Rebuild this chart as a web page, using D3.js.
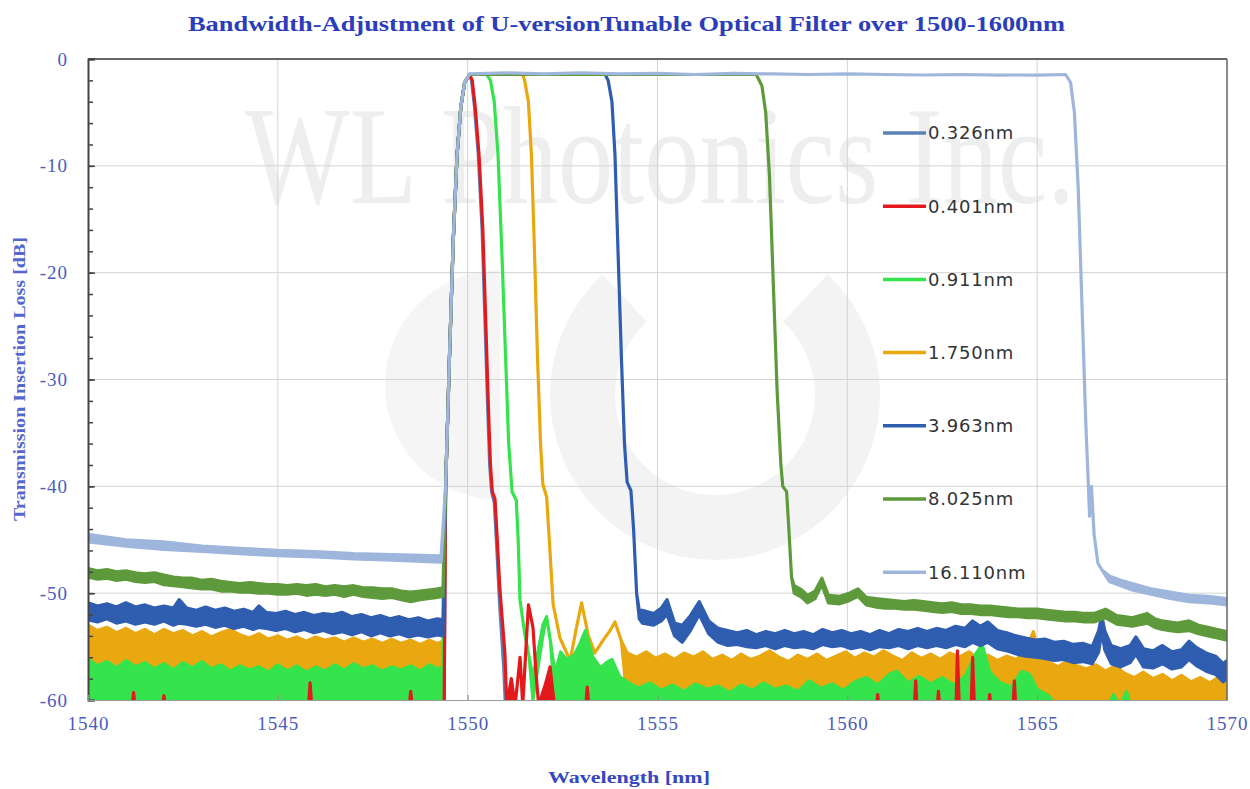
<!DOCTYPE html>
<html>
<head>
<meta charset="utf-8">
<script src="https://cdn.jsdelivr.net/npm/d3@7"></script>
<style>
  body { margin: 0; background: #fff; }
  svg { display: block; }
  .tick text { font-family: "Liberation Serif", serif; font-size: 19px; fill: #4c5cbf; letter-spacing: 1px; }
</style>
</head>
<body>
<script>
// series names (legend order)
const seriesNames = ['0.326nm', '0.401nm', '0.911nm', '1.750nm', '3.963nm', '8.025nm', '16.110nm'];
const xTicks = [1540, 1545, 1550, 1555, 1560, 1565, 1570];
const yTicks = [0, -10, -20, -30, -40, -50, -60];
const yMinor = d3.range(0, -61, -2);

// each point: [wavelength nm, upper dB, lower dB (optional, same as upper if missing)]
const s0326 = [[1540,-61],[1549.38,-61],[1549.42,-40],[1549.52,-28],[1549.62,-17],[1549.72,-9],[1549.82,-4.5],[1549.92,-2.2],[1550.05,-1.45],
  [1550.1,-2.0],[1550.18,-4.5],[1550.28,-9],[1550.38,-16],[1550.46,-25],[1550.53,-33],[1550.58,-38],[1550.63,-40.5],[1550.7,-41.5],
  [1550.77,-46],[1550.84,-51],[1550.95,-57],[1551.0,-61],[1570,-61]];

const s0401 = [[1540,-61],[1541.15,-61],[1541.2,-59.3,-61],[1541.25,-61],[1541.95,-61],[1542.0,-59.6,-61],[1542.05,-61],
  [1545.8,-61],[1545.85,-58.4,-61],[1545.9,-61],[1548.45,-61],[1548.5,-59.2,-61],[1548.55,-61],[1549.38,-61],
  [1549.42,-40],[1549.52,-28],[1549.62,-17],[1549.72,-9],[1549.82,-4.5],[1549.92,-2.2],[1550.05,-1.45],
  [1550.12,-2.0],[1550.2,-4.5],[1550.3,-9],[1550.4,-16],[1550.48,-25],[1550.55,-33],[1550.6,-38],[1550.65,-40.5],[1550.72,-41.2],
  [1550.78,-45],[1550.85,-49.7],[1550.98,-55.6],[1551.03,-60.5],[1551.15,-58,-61],[1551.25,-60.5],[1551.38,-56],[1551.45,-60.5],
  [1551.6,-51.1],[1551.72,-53.2],[1551.8,-57.5],[1551.87,-60.5],[1552.05,-58.5,-61],[1552.17,-56.9,-61],[1552.3,-61],
  [1553.1,-61],[1553.15,-58.8,-61],[1553.2,-61],[1560.76,-61],[1560.8,-59.5,-61],[1560.84,-61],[1561.76,-61],[1561.8,-58.2,-61],
  [1561.84,-61],[1562.36,-61],[1562.4,-59.2,-61],[1562.44,-61],[1562.86,-61],[1562.9,-55.4,-61],[1562.95,-61],[1563.26,-61],
  [1563.3,-56.0,-61],[1563.35,-61],[1563.71,-61],[1563.75,-59.5,-61],[1563.79,-61],[1564.36,-61],[1564.4,-58.2,-61],[1564.44,-61],[1570,-61]];

const s0911 = [[1540,-56.2,-60],[1540.25,-56.8,-60],[1540.5,-56.4,-60],[1540.75,-57.0,-60],[1541,-56.3,-60],[1541.25,-56.9,-60],
  [1541.5,-56.5,-60],[1541.75,-57.1,-60],[1542,-56.6,-60],[1542.25,-57.2,-60],[1542.5,-56.5,-60],[1542.75,-57.0,-60],[1543,-56.4,-60],
  [1543.25,-57.1,-60],[1543.5,-56.7,-60],[1543.75,-57.3,-60],[1544,-56.8,-60],[1544.25,-57.2,-60],[1544.5,-56.9,-60],[1544.75,-57.4,-60],
  [1545,-56.7,-60],[1545.25,-57.3,-60],[1545.5,-56.8,-60],[1545.75,-57.4,-60],[1546,-56.9,-60],[1546.25,-57.3,-60],[1546.5,-56.7,-60],
  [1546.75,-57.2,-60],[1547,-56.6,-60],[1547.25,-57.1,-60],[1547.5,-56.8,-60],[1547.75,-57.3,-60],[1548,-56.9,-60],[1548.25,-57.2,-60],
  [1548.5,-56.8,-60],[1548.75,-57.3,-60],[1549,-56.7,-60],[1549.2,-57.1,-60],[1549.35,-56.9,-60],
  [1549.42,-40],[1549.52,-28],[1549.62,-17],[1549.72,-9],[1549.82,-4.5],[1549.92,-2.2],[1550.05,-1.45],[1550.5,-1.45],
  [1550.6,-2.0],[1550.7,-4],[1550.8,-9],[1550.9,-18],[1551.0,-28],[1551.08,-36],[1551.17,-40.5],[1551.28,-41.3],[1551.33,-45],
  [1551.38,-50.7],[1551.5,-53.7],[1551.62,-56],[1551.72,-57.8,-60],[1551.85,-55.5,-57],[1551.98,-53,-54],[1552.08,-52.2],
  [1552.18,-54.5],[1552.3,-57.5,-60],[1552.45,-55.5,-60],[1552.6,-56.2,-60],[1552.8,-55.8,-60],[1552.95,-54.8,-60],[1553.1,-53.5,-60],
  [1553.3,-56,-60],[1553.5,-57,-60],[1553.65,-56.5,-60],[1553.8,-56.2,-60],[1554.0,-57.8,-60],
  [1554.2,-58.3,-60],[1554.5,-58.9,-60],[1554.8,-58.4,-60],[1555.1,-59.1,-60],[1555.4,-58.6,-60],[1555.7,-59.2,-60],[1556.0,-58.5,-60],
  [1556.3,-59.0,-60],[1556.6,-58.7,-60],[1556.9,-59.3,-60],[1557.2,-58.6,-60],[1557.5,-59.1,-60],[1557.8,-58.4,-60],[1558.1,-59.0,-60],
  [1558.4,-58.7,-60],[1558.7,-59.2,-60],[1559.0,-58.2,-60],[1559.3,-58.9,-60],[1559.6,-58.5,-60],[1559.9,-59.1,-60],[1560.2,-58.3,-60],
  [1560.5,-57.9,-60],[1560.8,-58.6,-60],[1561.1,-57.6,-60],[1561.3,-57.3,-60],[1561.6,-58.4,-60],[1561.9,-57.8,-60],[1562.2,-58.5,-60],
  [1562.5,-57.9,-60],[1562.8,-58.6,-60],[1563.1,-57.8,-60],[1563.4,-55.6,-60],[1563.55,-54.8,-60],[1563.75,-57.4,-60],[1564.0,-58.3,-60],
  [1564.3,-58.8,-60],[1564.6,-57.3,-60],[1564.8,-57.6,-60],[1565.0,-59.0,-60],[1565.3,-59.6,-60],[1565.5,-60.5],[1566.9,-60.5],
  [1567.0,-59.5,-61],[1567.2,-60.5],[1567.35,-59.2,-61],[1567.5,-61],[1570,-61]];

const s1750 = [[1540,-53.0,-60],[1540.25,-53.5,-60],[1540.5,-53.2,-60],[1540.75,-53.7,-60],[1541,-53.3,-60],[1541.25,-53.8,-60],
  [1541.5,-53.4,-60],[1541.75,-53.9,-60],[1542,-53.4,-60],[1542.25,-53.8,-60],[1542.5,-53.5,-60],[1542.75,-54.0,-60],[1543,-53.6,-60],
  [1543.25,-54.1,-60],[1543.5,-53.7,-60],[1543.75,-53.4,-60],[1544,-53.9,-60],[1544.25,-54.2,-60],[1544.5,-53.8,-60],[1544.75,-54.3,-60],
  [1545,-54.0,-60],[1545.25,-54.4,-60],[1545.5,-54.1,-60],[1545.75,-54.5,-60],[1546,-54.1,-60],[1546.25,-54.4,-60],[1546.5,-54.2,-60],
  [1546.75,-54.6,-60],[1547,-54.2,-60],[1547.25,-54.6,-60],[1547.5,-54.3,-60],[1547.75,-54.7,-60],[1548,-54.3,-60],[1548.25,-54.7,-60],
  [1548.5,-54.4,-60],[1548.75,-54.8,-60],[1549,-54.4,-60],[1549.2,-54.7,-60],[1549.35,-54.5,-60],
  [1549.42,-40],[1549.52,-28],[1549.62,-17],[1549.72,-9],[1549.82,-4.5],[1549.92,-2.2],[1550.05,-1.45],[1551.45,-1.45],
  [1551.5,-2.0],[1551.6,-4],[1551.68,-9],[1551.76,-18],[1551.84,-28],[1551.92,-36],[1551.98,-39.8],[1552.08,-41],[1552.15,-45],
  [1552.25,-51],[1552.43,-54.2],[1552.7,-56.3],[1552.85,-53.5],[1553.0,-50.9],[1553.18,-54],[1553.35,-55.6],[1553.57,-54.4],
  [1553.75,-53.5],[1553.88,-52.7],[1554.05,-54.5],
  [1554.2,-55.6,-60],[1554.45,-56.0,-60],[1554.7,-55.5,-60],[1554.95,-56.1,-60],[1555.2,-55.7,-60],[1555.45,-56.2,-60],[1555.7,-55.6,-60],
  [1555.95,-56.0,-60],[1556.2,-55.5,-60],[1556.45,-56.2,-60],[1556.7,-55.8,-60],[1556.95,-56.3,-60],[1557.2,-55.7,-60],[1557.45,-56.2,-60],
  [1557.7,-55.9,-60],[1557.95,-55.4,-60],[1558.2,-56.0,-60],[1558.45,-56.4,-60],[1558.7,-55.8,-60],[1558.95,-56.2,-60],[1559.2,-55.7,-60],
  [1559.45,-56.3,-60],[1559.7,-55.9,-60],[1559.95,-55.5,-60],[1560.2,-56.1,-60],[1560.45,-55.6,-60],[1560.7,-56.0,-60],[1560.95,-55.4,-60],
  [1561.2,-55.9,-60],[1561.45,-56.3,-60],[1561.7,-55.6,-60],[1561.95,-56.1,-60],[1562.2,-55.7,-60],[1562.45,-56.2,-60],[1562.7,-55.6,-60],
  [1562.95,-56.0,-60],[1563.2,-55.5,-60],[1563.45,-56.1,-60],[1563.7,-55.8,-60],[1563.95,-56.3,-60],[1564.2,-55.9,-60],[1564.45,-56.2,-60],
  [1564.7,-55.4,-60],[1564.9,-53.6,-60],[1565.05,-55.8,-60],[1565.3,-56.4,-60],[1565.55,-56.9,-60],[1565.8,-56.3,-60],[1566.05,-56.8,-60],
  [1566.3,-57.1,-60],[1566.55,-56.7,-60],[1566.8,-57.3,-60],[1567.05,-56.8,-60],[1567.3,-57.5,-60],[1567.55,-57.9,-60],[1567.8,-57.4,-60],
  [1568.05,-58.0,-60],[1568.3,-57.6,-60],[1568.55,-58.2,-60],[1568.8,-57.7,-60],[1569.05,-58.3,-60],[1569.3,-57.9,-60],[1569.55,-58.4,-60],
  [1569.8,-57.8,-60],[1570,-57.5,-60]];

const s3963 = [[1540,-50.9,-52.5],[1540.25,-51.2,-52.7],[1540.5,-51.0,-52.4],[1540.75,-51.3,-52.8],[1541,-50.9,-52.6],[1541.25,-51.3,-52.9],
  [1541.5,-51.1,-52.7],[1541.75,-51.4,-52.9],[1542,-51.2,-52.6],[1542.25,-51.4,-53.0],[1542.4,-50.6,-52.8],[1542.6,-51.4,-52.9],
  [1542.85,-51.6,-53.1],[1543.1,-51.3,-52.9],[1543.35,-51.6,-53.2],[1543.6,-51.4,-53.0],[1543.85,-51.7,-53.3],[1544.1,-51.5,-53.1],
  [1544.35,-51.8,-53.4],[1544.5,-51.2,-53.2],[1544.7,-51.8,-53.3],[1544.95,-51.9,-53.5],[1545.2,-51.7,-53.3],[1545.45,-52.0,-53.6],
  [1545.7,-51.8,-53.4],[1545.95,-52.1,-53.7],[1546.2,-51.9,-53.5],[1546.45,-52.0,-53.8],[1546.7,-51.8,-53.6],[1546.95,-52.2,-53.9],
  [1547.2,-52.0,-53.6],[1547.45,-52.3,-54.0],[1547.7,-52.1,-53.7],[1547.95,-52.4,-54.0],[1548.2,-52.2,-53.8],[1548.45,-52.5,-54.1],
  [1548.7,-52.3,-53.9],[1548.95,-52.6,-54.1],[1549.2,-52.4,-53.9],[1549.35,-52.5,-54.0],
  [1549.42,-40],[1549.52,-28],[1549.62,-17],[1549.72,-9],[1549.82,-4.5],[1549.92,-2.2],[1550.05,-1.45],[1553.62,-1.45],
  [1553.7,-2.0],[1553.8,-4],[1553.88,-9],[1553.96,-18],[1554.05,-28],[1554.13,-36],[1554.2,-39.6],[1554.3,-40.4],[1554.37,-44],
  [1554.45,-50],[1554.52,-51.6,-52.4],[1554.6,-51.6,-52.8],[1554.9,-51.9,-53.0],[1555.1,-51.4,-52.6],[1555.25,-50.6,-52.0],
  [1555.45,-52.8,-54.0],[1555.65,-53.0,-54.6],[1555.85,-52.2,-53.6],[1556.1,-50.8,-52.0],[1556.35,-52.6,-53.8],
  [1556.6,-53.3,-54.6],[1556.85,-53.5,-54.9],[1557.1,-53.7,-54.8],[1557.35,-53.5,-55.0],[1557.6,-53.9,-55.1],[1557.85,-53.6,-54.9],
  [1558.1,-53.8,-55.2],[1558.35,-53.5,-54.9],[1558.6,-53.8,-55.1],[1558.85,-53.6,-55.0],[1559.1,-53.9,-55.2],[1559.35,-53.4,-54.8],
  [1559.6,-53.7,-55.0],[1559.85,-53.5,-54.9],[1560.1,-53.8,-55.2],[1560.35,-53.6,-55.0],[1560.6,-53.9,-55.3],[1560.85,-53.5,-55.0],
  [1561.1,-53.8,-55.1],[1561.35,-53.4,-54.9],[1561.6,-53.6,-55.2],[1561.85,-53.3,-54.9],[1562.1,-53.6,-55.1],[1562.35,-53.3,-54.9],
  [1562.6,-53.5,-55.1],[1562.85,-53.1,-54.8],[1563.1,-53.3,-55.0],[1563.3,-52.6,-54.6],[1563.5,-53.1,-54.9],[1563.7,-52.7,-54.6],
  [1563.95,-53.5,-55.2],[1564.2,-53.7,-55.4],[1564.45,-54.0,-55.7],[1564.7,-54.2,-55.9],[1564.95,-54.4,-56.0],[1565.2,-54.3,-56.1],
  [1565.45,-54.6,-56.3],[1565.7,-54.5,-56.2],[1565.95,-54.8,-56.5],[1566.2,-54.7,-56.4],[1566.45,-55.0,-56.6],[1566.62,-53.5,-55.5],
  [1566.7,-52.1,-53.6],[1566.78,-53.5,-55.3],[1566.95,-54.9,-56.6],[1567.2,-55.2,-56.9],[1567.45,-54.9,-56.5],[1567.6,-54.1,-55.7],
  [1567.8,-55.2,-56.9],[1568.05,-55.4,-57.0],[1568.3,-54.9,-56.6],[1568.55,-55.5,-57.1],[1568.8,-55.3,-56.9],[1569.0,-54.5,-56.2],
  [1569.2,-55.1,-56.8],[1569.45,-55.6,-57.3],[1569.7,-55.9,-57.6],[1569.9,-56.6,-58.3],[1570,-56.3,-58.0]];

const s8025 = [[1540,-47.7,-48.5],[1540.25,-47.9,-48.7],[1540.5,-47.8,-48.6],[1540.75,-48.0,-48.8],[1541,-47.9,-48.7],[1541.25,-48.1,-48.9],
  [1541.5,-48.2,-49.0],[1541.75,-48.1,-48.9],[1542,-48.3,-49.2],[1542.25,-48.5,-49.3],[1542.5,-48.6,-49.4],[1542.75,-48.6,-49.5],
  [1543,-48.8,-49.6],[1543.25,-48.7,-49.6],[1543.5,-48.9,-49.8],[1543.75,-49.0,-49.8],[1544,-49.1,-49.9],[1544.25,-49.0,-49.9],
  [1544.5,-49.1,-50.0],[1544.75,-49.2,-50.0],[1545,-49.2,-50.1],[1545.25,-49.3,-50.1],[1545.5,-49.2,-50.0],[1545.75,-49.3,-50.2],
  [1546,-49.2,-50.1],[1546.25,-49.4,-50.2],[1546.5,-49.3,-50.1],[1546.75,-49.4,-50.3],[1547,-49.3,-50.1],[1547.25,-49.5,-50.3],
  [1547.5,-49.5,-50.4],[1547.75,-49.6,-50.5],[1548,-49.6,-50.4],[1548.25,-49.8,-50.6],[1548.5,-49.9,-50.8],[1548.75,-49.8,-50.6],
  [1549,-49.7,-50.5],[1549.2,-49.6,-50.4],[1549.35,-49.5,-50.3],
  [1549.42,-40],[1549.52,-28],[1549.62,-17],[1549.72,-9],[1549.82,-4.5],[1549.92,-2.2],[1550.05,-1.45],[1557.6,-1.45],
  [1557.75,-2.5],[1557.85,-5],[1557.95,-11],[1558.05,-21],[1558.15,-31],[1558.25,-38],[1558.3,-40],[1558.4,-40.5],[1558.46,-44],
  [1558.53,-48.5],[1558.6,-49.3,-50],[1558.8,-49.7,-50.4],[1558.95,-50.2,-50.9],[1559.15,-49.8,-50.5],[1559.33,-48.6,-49.2],
  [1559.5,-50.2,-50.9],[1559.8,-50.3,-51.0],[1560.05,-50.0,-50.7],[1560.28,-49.6,-50.3],[1560.5,-50.4,-51.1],[1560.75,-50.5,-51.3],
  [1561,-50.6,-51.4],[1561.25,-50.7,-51.4],[1561.5,-50.8,-51.5],[1561.75,-50.7,-51.5],[1562,-50.8,-51.6],[1562.25,-50.9,-51.7],
  [1562.5,-51.0,-51.8],[1562.75,-50.9,-51.7],[1563,-51.1,-51.9],[1563.25,-51.1,-51.9],[1563.5,-51.2,-52.0],[1563.75,-51.2,-52.0],
  [1564,-51.3,-52.1],[1564.25,-51.4,-52.2],[1564.5,-51.5,-52.2],[1564.75,-51.5,-52.3],[1565,-51.5,-52.3],[1565.25,-51.6,-52.4],
  [1565.5,-51.7,-52.5],[1565.75,-51.8,-52.6],[1566,-51.8,-52.6],[1566.25,-51.9,-52.7],[1566.5,-51.9,-52.7],[1566.8,-51.5,-52.3],
  [1567.1,-52.1,-52.9],[1567.3,-52.2,-53.0],[1567.5,-52.3,-53.1],[1567.9,-51.9,-52.8],[1568.1,-52.4,-53.2],[1568.3,-52.6,-53.4],
  [1568.5,-52.7,-53.5],[1568.7,-52.8,-53.6],[1569,-52.6,-53.5],[1569.25,-53.0,-53.8],[1569.5,-53.2,-54.0],[1569.75,-53.4,-54.2],
  [1570,-53.6,-54.4]];

const s16110 = [[1540,-44.5,-45.2],[1541,-45.0,-45.6],[1542,-45.2,-45.9],[1543,-45.6,-46.1],[1544,-45.8,-46.3],[1545,-46.0,-46.5],
  [1546,-46.1,-46.6],[1547,-46.3,-46.8],[1548,-46.4,-46.9],[1549.3,-46.5,-47.1],
  [1549.42,-40],[1549.52,-28],[1549.62,-17],[1549.72,-9],[1549.82,-4.5],[1549.92,-2.2],[1550.05,-1.4],
  [1551,-1.3],[1552,-1.4],[1553,-1.3],[1554,-1.4],[1555,-1.35],[1556,-1.45],[1557,-1.35],[1558,-1.4],[1559,-1.45],[1560,-1.4],
  [1561,-1.45],[1562,-1.5],[1563,-1.45],[1564,-1.5],[1565,-1.5],[1565.75,-1.45],
  [1565.88,-2.2],[1565.98,-5],[1566.08,-12],[1566.18,-23],[1566.28,-34],[1566.35,-40],[1566.38,-42.8],[1566.43,-40.0],
  [1566.5,-44.5],[1566.6,-47.2],[1566.7,-47.8],[1566.9,-48.4,-48.9],[1567.2,-48.8,-49.3],[1567.5,-49.1,-49.7],[1568,-49.6,-50.1],
  [1568.5,-49.9,-50.5],[1569,-50.2,-50.8],[1569.5,-50.3,-50.9],[1570,-50.5,-51.1]];

const seriesData = [s0326, s0401, s0911, s1750, s3963, s8025, s16110];
const colors = ['#5b82b6', '#e3191c', '#35e44c', '#e9a80f', '#2f5db0', '#5e9a3b', '#9fb6dc'];
// drawing order, last on top
const drawOrder = [0, 3, 2, 1, 4, 5, 6];

const width = 1250, height = 789;
const svg = d3.select('body').append('svg')
  .attr('width', width)
  .attr('height', height);

const x = d3.scaleLinear().domain([1540, 1570]).range([88, 1227]);
const y = d3.scaleLinear().domain([-60, 0]).range([700, 59]);

// watermark
const wm = svg.append('g').attr('class', 'watermark');
const arc = d3.arc();
wm.append('path')
  .attr('transform', 'translate(715,395)')
  .attr('d', arc({innerRadius: 100, outerRadius: 165, startAngle: 0.75, endAngle: 2 * Math.PI - 0.75}))
  .attr('fill', '#f3f3f3');
wm.append('path')
  .attr('transform', 'translate(500,385)')
  .attr('d', arc({innerRadius: 0, outerRadius: 115, startAngle: Math.PI, endAngle: 2 * Math.PI}))
  .attr('fill', '#f5f5f5');
wm.append('text')
  .attr('x', 245).attr('y', 203)
  .attr('textLength', 830).attr('lengthAdjust', 'spacingAndGlyphs')
  .style('font-family', '"Liberation Serif", serif')
  .style('font-size', '140px')
  .attr('fill', '#eeeeee')
  .text('WL Photonics Inc.');

// grid
svg.append('g').selectAll('line')
  .data(yTicks.slice(1, -1))
  .join('line')
  .attr('x1', x(1540)).attr('x2', x(1570))
  .attr('y1', d => y(d)).attr('y2', d => y(d))
  .attr('stroke', '#d4d4d4').attr('stroke-width', 1);
svg.append('g').selectAll('line')
  .data(xTicks.slice(1, -1))
  .join('line')
  .attr('x1', d => x(d)).attr('x2', d => x(d))
  .attr('y1', y(0)).attr('y2', y(-60))
  .attr('stroke', '#d4d4d4').attr('stroke-width', 1);

// series
svg.append('clipPath').attr('id', 'plot-clip')
  .append('rect')
  .attr('x', x(1540)).attr('y', y(0))
  .attr('width', x(1570) - x(1540)).attr('height', y(-60) - y(0));

const area = d3.area()
  .x(d => x(d[0]))
  .y1(d => y(d[1]))
  .y0(d => y(d.length > 2 ? d[2] : d[1]));

svg.append('g').attr('clip-path', 'url(#plot-clip)')
  .selectAll('path')
  .data(drawOrder)
  .join('path')
  .attr('d', i => area(seriesData[i]))
  .attr('fill', i => colors[i])
  .attr('stroke', i => colors[i])
  .attr('stroke-width', 3.2)
  .attr('stroke-linejoin', 'round');

// frame
svg.append('line').attr('x1', x(1540)).attr('x2', x(1570)).attr('y1', y(0)).attr('y2', y(0))
  .attr('stroke', '#666').attr('stroke-width', 2);
svg.append('line').attr('x1', x(1570)).attr('x2', x(1570)).attr('y1', y(0)).attr('y2', y(-60))
  .attr('stroke', '#666').attr('stroke-width', 1.5);

// axes
const yAxis = svg.append('g')
  .attr('transform', `translate(${x(1540)},0)`)
  .call(d3.axisLeft(y).tickValues(yTicks).tickSize(-7).tickPadding(20).tickFormat(d => String(d)));
yAxis.select('.domain').attr('stroke', '#444').attr('stroke-width', 2);
yAxis.selectAll('.tick line').attr('stroke', '#444').attr('stroke-width', 1.5);

svg.append('g')
  .attr('transform', `translate(${x(1540)},0)`)
  .call(d3.axisLeft(y).tickValues(yMinor).tickSize(-5).tickFormat(''))
  .call(g => g.select('.domain').remove())
  .selectAll('.tick line').attr('stroke', '#444').attr('stroke-width', 1.5);

const xAxis = svg.append('g')
  .attr('transform', `translate(0,${y(-60)})`)
  .call(d3.axisBottom(x).tickValues(xTicks).tickSize(-5).tickPadding(17).tickFormat(d => String(d)));
xAxis.select('.domain').attr('stroke', '#999').attr('stroke-width', 1);
xAxis.selectAll('.tick line').attr('stroke', '#888');

// titles
svg.append('text')
  .attr('x', 188).attr('y', 31)
  .attr('textLength', 877).attr('lengthAdjust', 'spacingAndGlyphs')
  .style('font-family', '"Liberation Serif", serif')
  .style('font-size', '21px').style('font-weight', 'bold')
  .attr('fill', '#2b3cbd')
  .text('Bandwidth-Adjustment of U-versionTunable Optical Filter over 1500-1600nm');

svg.append('text')
  .attr('transform', 'translate(25,379) rotate(-90)')
  .attr('text-anchor', 'middle')
  .attr('textLength', 284).attr('lengthAdjust', 'spacingAndGlyphs')
  .style('font-family', '"Liberation Serif", serif')
  .style('font-size', '16px').style('font-weight', 'bold')
  .attr('fill', '#5567cf')
  .text('Transmission Insertion Loss [dB]');

svg.append('text')
  .attr('x', 629).attr('y', 783)
  .attr('text-anchor', 'middle')
  .attr('textLength', 162).attr('lengthAdjust', 'spacingAndGlyphs')
  .style('font-family', '"Liberation Serif", serif')
  .style('font-size', '17px').style('font-weight', 'bold')
  .attr('fill', '#3546c2')
  .text('Wavelength [nm]');

// legend
const legend = svg.append('g').selectAll('g')
  .data(seriesNames)
  .join('g')
  .attr('transform', (d, i) => `translate(883,${133 + i * 73.2})`);
legend.append('line')
  .attr('x1', 0).attr('x2', 43).attr('y1', 0).attr('y2', 0)
  .attr('stroke', (d, i) => colors[i]).attr('stroke-width', 3.5);
legend.append('text')
  .attr('x', 45).attr('y', 0).attr('dy', '0.36em')
  .style('font-family', '"DejaVu Sans", sans-serif')
  .style('font-size', '18px').style('letter-spacing', '0.8px')
  .attr('fill', '#333')
  .text(d => d);
</script>
</body>
</html>
